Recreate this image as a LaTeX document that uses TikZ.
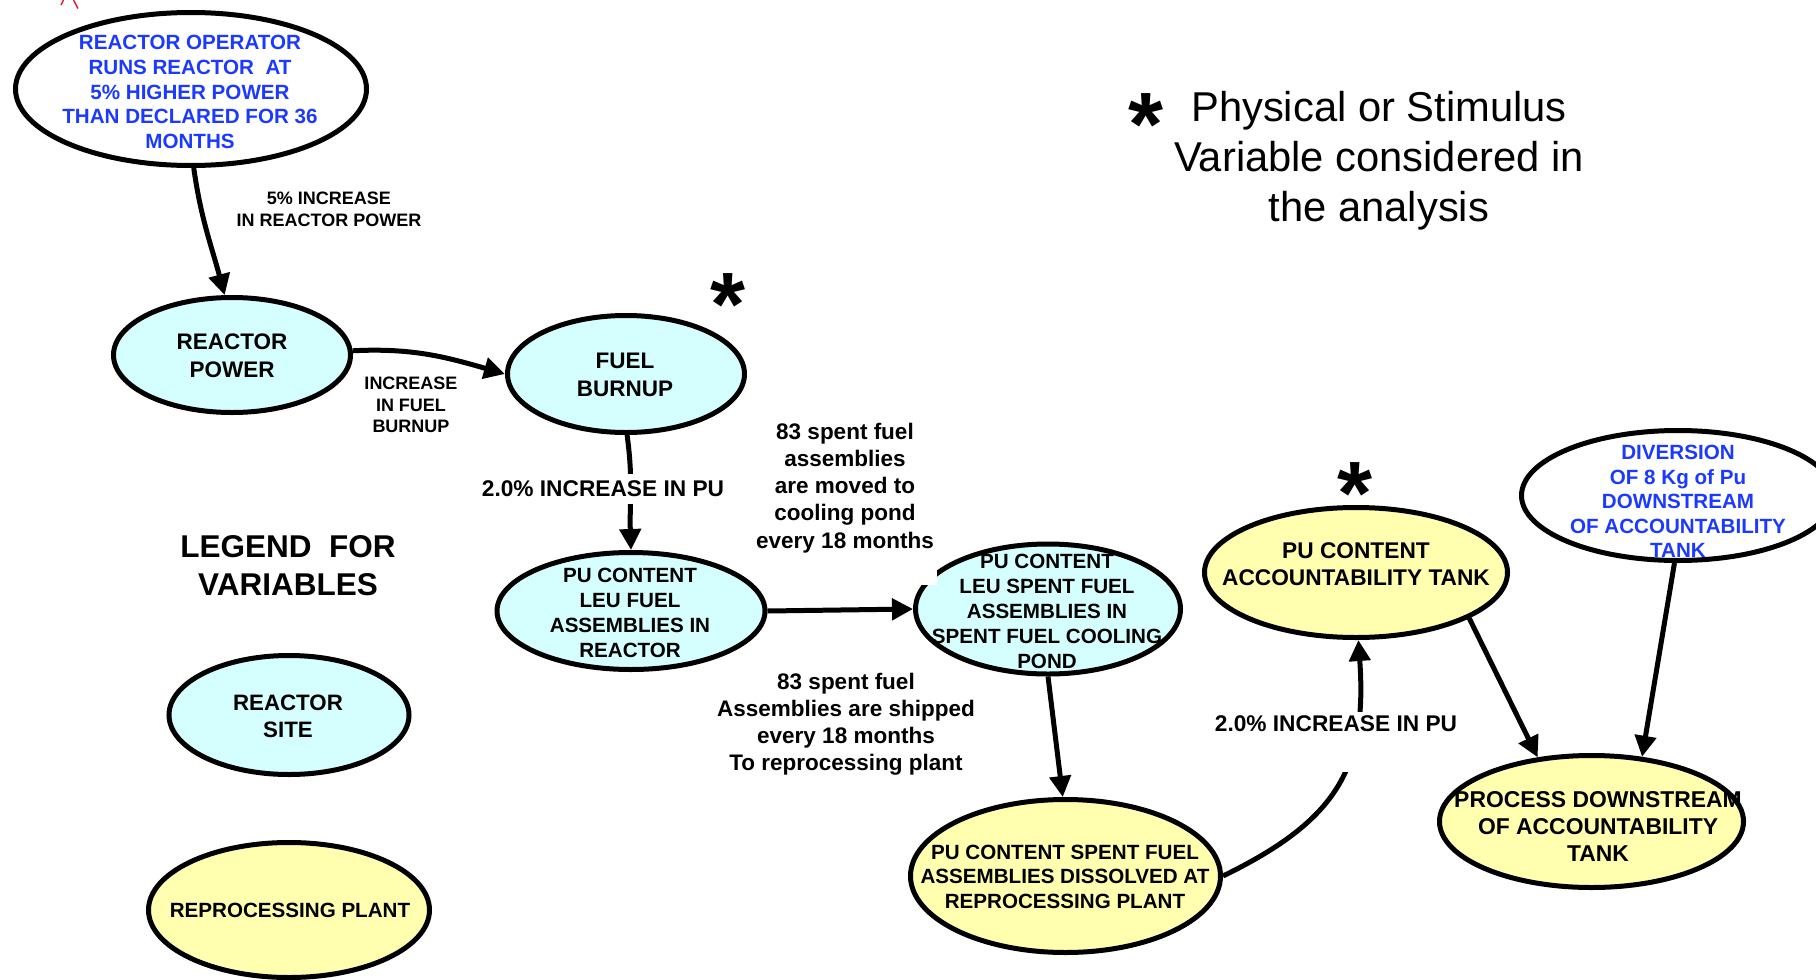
\documentclass[tikz,border=0pt]{standalone}
\usepackage{fontspec}
\setmainfont{Liberation Sans}
\usetikzlibrary{shapes.geometric,arrows.meta}
\definecolor{varcyan}{RGB}{213,255,255}
\definecolor{varyellow}{RGB}{255,255,175}
\definecolor{stimblue}{RGB}{28,58,255}
\definecolor{pencil}{RGB}{220,30,70}
\newcommand\setfs[2]{\fontsize{#1}{#2}\selectfont\bfseries}
% a bold asterisk centred on its own reference point
\newcommand\bigast{\raisebox{-44pt}[15pt][15pt]{*}}

\begin{document}
\begin{tikzpicture}[x=1pt,y=1pt,
  var/.style={ellipse, draw=black, line width=5pt, inner sep=0pt},
  cyanvar/.style={var, fill=varcyan},
  yellowvar/.style={var, fill=varyellow},
  stimvar/.style={var, fill=white},
  txt/.style={align=center, inner sep=0pt},
  link/.style={line width=5pt, -{Triangle[length=21pt,width=21pt]}},
  cutlabel/.style={fill=white, inner sep=6pt, font=\setfs{22.7}{27}},
  asterisk/.style={inner sep=0pt, font=\setfs{90}{90}}
]
\useasboundingbox (0,0) rectangle (1816,-980);
\clip (0,0) rectangle (1816,-980);

% pencil tick at the top edge
\draw[pencil, line width=1.5pt] (61,-5) -- (63.5,0) (73.5,0) -- (78,-8.5);

% variables (ellipses)
\node[stimvar, minimum width=351pt, minimum height=153pt] (op) at (191,-89) {};
\node[cyanvar, minimum width=237pt, minimum height=115pt] (rp) at (232,-355) {};
\node[cyanvar, minimum width=237pt, minimum height=117pt] (fb) at (626,-374) {};
\node[cyanvar, minimum width=268pt, minimum height=117pt] (leu) at (631,-611) {};
\node[cyanvar, minimum width=265pt, minimum height=130pt] (pond) at (1048,-609) {};
\fill[white] (908,-568) rectangle (937,-585);
\node[yellowvar, minimum width=310pt, minimum height=153pt] (dis) at (1065.5,-876) {};
\node[yellowvar, minimum width=303pt, minimum height=130pt] (acc) at (1356,-572.5) {};
\node[stimvar, minimum width=313pt, minimum height=130pt] (div) at (1678,-495.5) {};
\node[yellowvar, minimum width=304pt, minimum height=132pt] (proc) at (1591.5,-821.5) {};
\node[cyanvar, minimum width=240pt, minimum height=119pt] (site) at (289,-715) {};
\node[yellowvar, minimum width=281pt, minimum height=135pt] (repro) at (289,-910) {};

% texts of the variables
\node[txt, text=stimblue, font=\setfs{20.6}{24.75}] (op-t) at (190,-92)
  {REACTOR OPERATOR\\RUNS REACTOR~~AT\\5\% HIGHER POWER\\THAN DECLARED FOR 36\\MONTHS};
\node[txt, font=\setfs{22.5}{27.8}] (rp-t) at (232,-355.5) {REACTOR\\POWER};
\node[txt, font=\setfs{22.5}{27.8}] (fb-t) at (625,-375) {FUEL\\BURNUP};
\node[txt, font=\setfs{20.6}{25.1}] (leu-t) at (630,-613)
  {PU CONTENT\\LEU FUEL\\ASSEMBLIES IN\\REACTOR};
\node[txt, font=\setfs{20.6}{25}] (pond-t) at (1047,-611)
  {PU CONTENT\\LEU SPENT FUEL\\ASSEMBLIES IN\\SPENT FUEL COOLING\\POND};
\node[txt, font=\setfs{20.6}{24.6}] (dis-t) at (1065,-876.5)
  {PU CONTENT SPENT FUEL\\ASSEMBLIES DISSOLVED AT\\REPROCESSING PLANT};
\node[txt, font=\setfs{22.7}{27.4}] (acc-t) at (1356,-564)
  {PU CONTENT\\ACCOUNTABILITY TANK};
\node[txt, text=stimblue, font=\setfs{20.6}{24.5}] (div-t) at (1678,-501.5)
  {DIVERSION\\OF 8 Kg of Pu\\DOWNSTREAM\\OF ACCOUNTABILITY\\TANK};
\node[txt, font=\setfs{22.9}{27.2}] (proc-t) at (1598,-826.7)
  {PROCESS DOWNSTREAM\\OF ACCOUNTABILITY\\TANK};
\node[txt, font=\setfs{22.3}{27.4}] (site-t) at (288,-716.5) {REACTOR\\SITE};
\node[txt, font=\setfs{20.6}{24}] (repro-t) at (290,-910.5) {REPROCESSING PLANT};

% influences
\draw[link] (op.-88) to[out=-82, in=105] (rp.97);
\draw[link] (rp.2) to[out=3, in=164] (fb.west);
\draw[link] (fb.-89) to[out=-82, in=92] (leu.north);
\draw[link] (leu.east) -- (pond.west);
\draw[link] (pond.south) -- (dis.92);
\draw[link] (dis.east) to[out=26, in=-86, looseness=1.2] (acc.-88);
\draw[link] (acc.-22) -- (proc.130);
\draw[link] (div.-93) -- (proc.52);

% connector labels
\node[txt, font=\setfs{18}{22}] (l-power) at (329,-209) {5\% INCREASE\\IN REACTOR POWER};
\node[txt, font=\setfs{18}{21.7}] (l-burnup) at (411,-405) {INCREASE\\IN FUEL\\BURNUP};
\node[cutlabel, inner sep=7pt] (l-pu1) at (603,-489) {2.0\% INCREASE IN PU};
\node[txt, font=\setfs{22.5}{27.3}] (l-moved) at (845,-487.8)
  {83 spent fuel\\assemblies\\are moved to\\cooling pond\\every 18 months};
\node[txt, font=\setfs{22.5}{27}] (l-shipped) at (846,-723.8)
  {83 spent fuel\\Assemblies are shipped\\every 18 months\\To reprocessing plant};
\node[cutlabel, inner sep=4pt, text depth=36pt, anchor=base] (l-pu2) at (1336,-731.7)
  {2.0\% INCREASE IN PU};

% legend and note
\node[txt, font=\setfs{31.5}{38}] (legend) at (288,-565.5) {LEGEND~~FOR\\VARIABLES};
\node[txt, font=\fontsize{41.7}{50}\selectfont] (note) at (1379,-160.5)
  {Physical or Stimulus\\Variable considered in\\the analysis};

% asterisks marking physical or stimulus variables
\node[asterisk] (ast-note) at (1146.5,-111) {\bigast};
\node[asterisk] (ast-fb) at (728.5,-291.8) {\bigast};
\node[asterisk] (ast-acc) at (1355,-480.6) {\bigast};
\end{tikzpicture}
\end{document}
